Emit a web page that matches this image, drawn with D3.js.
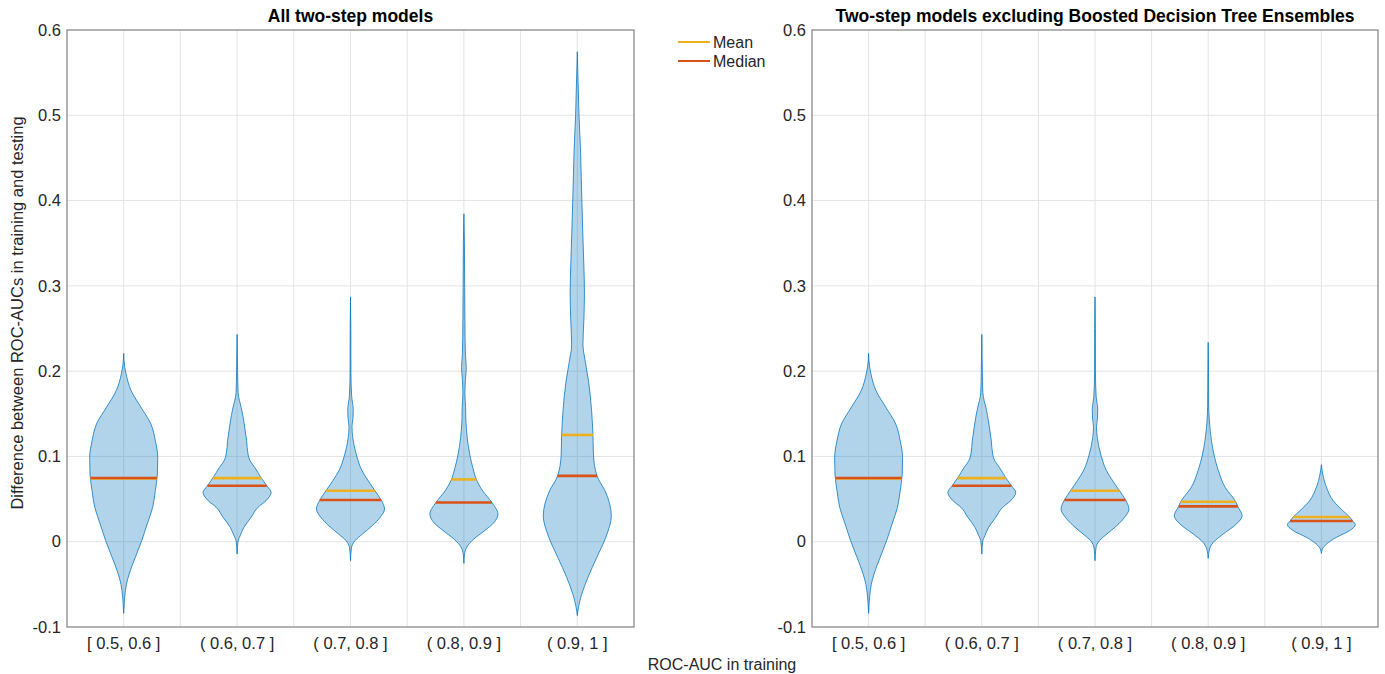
<!DOCTYPE html>
<html>
<head>
<meta charset="utf-8">
<script src="https://cdn.jsdelivr.net/npm/d3@7"></script>
<style>
  html, body { margin: 0; padding: 0; background: #fff; }
  svg { display: block; font-family: "Liberation Sans", Arial, Helvetica, sans-serif; }
</style>
</head>
<body>
<svg id="chart" width="1385" height="674"></svg>
<script>
// ---------------- DATA ----------------
const categories = ["[ 0.5, 0.6 ]", "( 0.6, 0.7 ]", "( 0.7, 0.8 ]", "( 0.8, 0.9 ]", "( 0.9, 1 ]"];
const yTickValues = [-0.1, 0, 0.1, 0.2, 0.3, 0.4, 0.5, 0.6];
const panelTitles = ["All two-step models", "Two-step models excluding Boosted Decision Tree Ensembles"];
const legendLabels = ["Mean", "Median"];

// Violin density profiles: [value, relative density (1 = widest)]
const profile05_06 = [[0.2208,0],[0.205,0.03],[0.1966,0.07],[0.177,0.22],[0.1575,0.51],[0.138,0.8],[0.1184,0.93],[0.0988,1.0],[0.0793,0.99],[0.0598,0.93],[0.0402,0.85],[0.0207,0.69],[0.0012,0.53],[-0.0184,0.34],[-0.0379,0.16],[-0.05,0.08],[-0.0574,0.05],[-0.07,0.02],[-0.084,0]];
const profile06_07 = [[0.243,0],[0.2,0.015],[0.175,0.03],[0.1653,0.07],[0.1575,0.12],[0.138,0.21],[0.1184,0.28],[0.1028,0.32],[0.095,0.38],[0.0871,0.52],[0.0754,0.70],[0.0657,0.87],[0.0578,1.0],[0.0481,0.85],[0.0402,0.61],[0.0285,0.41],[0.0168,0.2],[0.007,0.09],[0.0012,0.03],[-0.0145,0]];
const profile07_08 = [[0.287,0],[0.25,0.01],[0.2,0.012],[0.17,0.035],[0.155,0.08],[0.145,0.073],[0.135,0.044],[0.122,0.067],[0.1016,0.175],[0.0832,0.34],[0.0715,0.52],[0.0598,0.72],[0.0489,0.9],[0.0383,1.0],[0.0285,0.87],[0.0188,0.64],[0.009,0.35],[0.0012,0.13],[-0.0067,0.03],[-0.0223,0]];
const profile08_09 = [[0.3845,0],[0.35,0.015],[0.298,0.023],[0.259,0.03],[0.2199,0.044],[0.204,0.07],[0.19,0.044],[0.1731,0.03],[0.1575,0.05],[0.1418,0.058],[0.1223,0.096],[0.1016,0.175],[0.0856,0.27],[0.0735,0.36],[0.0598,0.55],[0.0461,0.82],[0.0325,1.0],[0.0227,0.89],[0.013,0.61],[0.0031,0.29],[-0.0067,0.08],[-0.0145,0.02],[-0.0254,0]];
const profile09_1 = [[0.5745,0],[0.5437,0.02],[0.5,0.05],[0.4567,0.096],[0.4134,0.125],[0.37,0.155],[0.3268,0.19],[0.2922,0.21],[0.2619,0.195],[0.2316,0.166],[0.21,0.24],[0.1883,0.33],[0.1537,0.42],[0.1251,0.46],[0.1017,0.475],[0.0771,0.58],[0.0584,0.83],[0.0303,1.0],[0.0065,0.85],[-0.0195,0.56],[-0.0411,0.32],[-0.0628,0.12],[-0.0758,0.04],[-0.0866,0]];
const profile08_09_noBDT = [[0.2337,0],[0.2,0.01],[0.16,0.015],[0.145,0.03],[0.134,0.05],[0.1184,0.096],[0.1028,0.166],[0.0832,0.3],[0.0637,0.5],[0.0469,0.81],[0.0414,0.87],[0.0305,1.0],[0.0207,0.83],[0.009,0.44],[-0.0008,0.15],[-0.0086,0.04],[-0.0195,0]];
const profile09_1_noBDT = [[0.0903,0],[0.0793,0.04],[0.0637,0.15],[0.048,0.35],[0.0364,0.63],[0.029,0.83],[0.0243,0.92],[0.02,1.0],[0.013,0.83],[0.0051,0.44],[-0.0028,0.15],[-0.0086,0.03],[-0.0137,0]];

const profilesAll = [profile05_06, profile06_07, profile07_08, profile08_09, profile09_1];
const profilesNoBDT = [profile05_06, profile06_07, profile07_08, profile08_09_noBDT, profile09_1_noBDT];

const meansAll = [0.0743, 0.0746, 0.0598, 0.0730, 0.1252];
const mediansAll = [0.0747, 0.0657, 0.0489, 0.0460, 0.0772];
const meansNoBDT = [0.0743, 0.0746, 0.0598, 0.0469, 0.0290];
const mediansNoBDT = [0.0747, 0.0657, 0.0489, 0.0414, 0.0243];

// ---------------- STYLE / LAYOUT ----------------
const violinBlue = "#0072BD";
const meanColor = "#EDB120";
const medianColor = "#D95319";
const axisColor = "#8a8a8a";
const gridColor = "#e4e4e4";
const textColor = "#262626";
const violinHalfWidth = 0.3; // in category units

const svg = d3.select("#chart");
const plotTop = 30, plotBottom = 627;
const panels = [
  { x0: 67, x1: 634, title: panelTitles[0], profiles: profilesAll, means: meansAll, medians: mediansAll },
  { x0: 812, x1: 1378, title: panelTitles[1], profiles: profilesNoBDT, means: meansNoBDT, medians: mediansNoBDT }
];

function densityAt(profile, v) {
  const pts = profile.slice().sort((a, b) => a[0] - b[0]);
  for (let i = 0; i < pts.length - 1; i++) {
    if (v >= pts[i][0] && v <= pts[i + 1][0]) {
      const t = (v - pts[i][0]) / (pts[i + 1][0] - pts[i][0]);
      return pts[i][1] + t * (pts[i + 1][1] - pts[i][1]);
    }
  }
  return 0;
}

panels.forEach(p => {
  const x = d3.scaleLinear().domain([0.5, 5.5]).range([p.x0, p.x1]);
  const y = d3.scaleLinear().domain([-0.1, 0.6]).range([plotBottom, plotTop]);
  const g = svg.append("g");

  // grid
  const xGrid = d3.range(1, 5.01, 0.5);
  g.append("g").selectAll("line").data(xGrid).join("line")
    .attr("x1", d => x(d)).attr("x2", d => x(d))
    .attr("y1", plotTop).attr("y2", plotBottom)
    .attr("stroke", gridColor).attr("stroke-width", 1);
  g.append("g").selectAll("line").data(yTickValues.slice(1, -1)).join("line")
    .attr("x1", p.x0).attr("x2", p.x1)
    .attr("y1", d => y(d)).attr("y2", d => y(d))
    .attr("stroke", gridColor).attr("stroke-width", 1);

  // violins
  p.profiles.forEach((prof, i) => {
    const cx = i + 1;
    const pts = prof.slice().sort((a, b) => b[0] - a[0]);
    const area = d3.area()
      .y(d => y(d[0]))
      .x0(d => x(cx - violinHalfWidth * d[1]))
      .x1(d => x(cx + violinHalfWidth * d[1]))
      .curve(d3.curveMonotoneY);
    g.append("path").datum(pts)
      .attr("d", area)
      .attr("fill", violinBlue).attr("fill-opacity", 0.3)
      .attr("stroke", violinBlue).attr("stroke-width", 0.9).attr("stroke-opacity", 0.85);

    const dm = densityAt(prof, p.means[i]);
    g.append("line")
      .attr("x1", x(cx - violinHalfWidth * dm)).attr("x2", x(cx + violinHalfWidth * dm))
      .attr("y1", y(p.means[i])).attr("y2", y(p.means[i]))
      .attr("stroke", meanColor).attr("stroke-width", 2.6);
    const dd = densityAt(prof, p.medians[i]);
    g.append("line")
      .attr("x1", x(cx - violinHalfWidth * dd)).attr("x2", x(cx + violinHalfWidth * dd))
      .attr("y1", y(p.medians[i])).attr("y2", y(p.medians[i]))
      .attr("stroke", medianColor).attr("stroke-width", 2.6);
  });

  // box
  g.append("rect").attr("x", p.x0).attr("y", plotTop)
    .attr("width", p.x1 - p.x0).attr("height", plotBottom - plotTop)
    .attr("fill", "none").attr("stroke", axisColor).attr("stroke-width", 1.3);

  // y tick labels
  g.append("g").selectAll("text").data(yTickValues).join("text")
    .attr("x", p.x0 - 6).attr("y", d => y(d))
    .attr("dy", "0.35em").attr("text-anchor", "end")
    .attr("font-size", 16.5).attr("fill", textColor)
    .text(d => String(Math.round(d * 10) / 10));

  // x tick labels
  g.append("g").selectAll("text").data(categories).join("text")
    .attr("x", (d, i) => x(i + 1)).attr("y", plotBottom + 22)
    .attr("text-anchor", "middle")
    .attr("font-size", 16.5).attr("fill", textColor)
    .text(d => d);

  // title
  g.append("text").attr("x", (p.x0 + p.x1) / 2).attr("y", plotTop - 8)
    .attr("text-anchor", "middle").attr("font-size", 17.5).attr("font-weight", "bold")
    .attr("fill", "#000").text(p.title);
});

// axis labels
svg.append("text").attr("transform", "translate(23,313) rotate(-90)")
  .attr("text-anchor", "middle").attr("font-size", 16.5).attr("fill", textColor)
  .text("Difference between ROC-AUCs in training and testing");
svg.append("text").attr("x", 722).attr("y", 670)
  .attr("text-anchor", "middle").attr("font-size", 16).attr("fill", textColor)
  .text("ROC-AUC in training");

// legend
const legendColors = [meanColor, medianColor];
const lg = svg.append("g");
legendLabels.forEach((lab, i) => {
  const ly = 42 + i * 19;
  lg.append("line").attr("x1", 678).attr("x2", 710).attr("y1", ly).attr("y2", ly)
    .attr("stroke", legendColors[i]).attr("stroke-width", 2);
  lg.append("text").attr("x", 713).attr("y", ly).attr("dy", "0.35em")
    .attr("font-size", 16).attr("fill", textColor).text(lab);
});
</script>
</body>
</html>
